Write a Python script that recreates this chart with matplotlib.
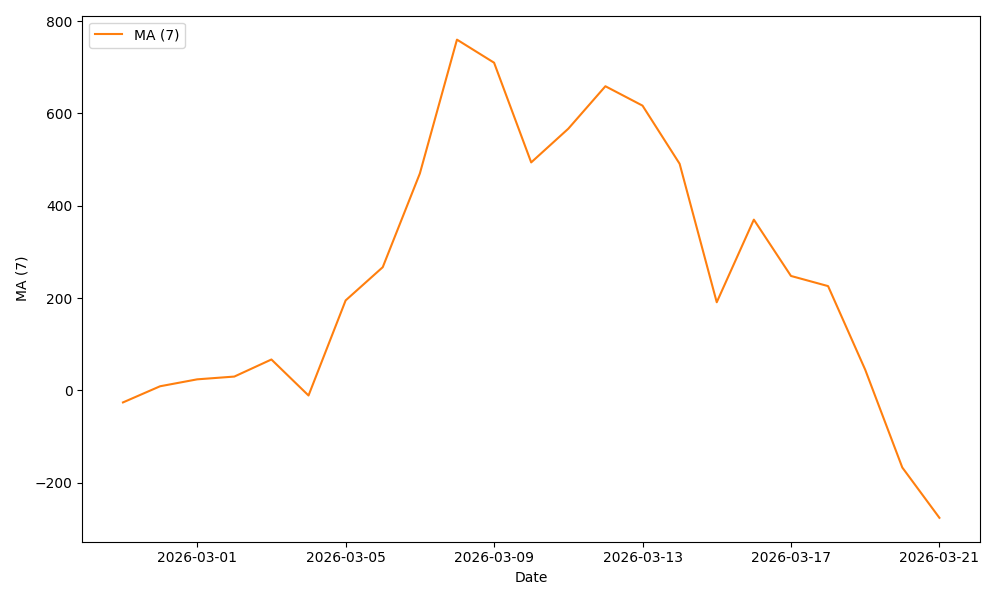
import matplotlib
matplotlib.use("Agg")
import matplotlib.pyplot as plt
import matplotlib.dates as mdates
import pandas as pd

dates = pd.date_range("2026-02-27", "2026-03-21", freq="D")
ma7 = [-26, 9, 24, 30, 67, -11, 195, 267, 470, 760, 710, 494, 567, 659, 617,
       491, 191, 370, 248, 226, 45, -167, -276]

fig, ax = plt.subplots(figsize=(10, 6), dpi=100)
ax.plot(dates, ma7, color="#ff7f0e", label="MA (7)")
ax.set_xlabel("Date")
ax.set_ylabel("MA (7)")
ax.xaxis.set_major_locator(mdates.DayLocator(bymonthday=[1, 5, 9, 13, 17, 21, 25]))
ax.xaxis.set_major_formatter(mdates.DateFormatter("%Y-%m-%d"))
ax.legend(loc="upper left")
fig.tight_layout()
fig.savefig("out.png")
